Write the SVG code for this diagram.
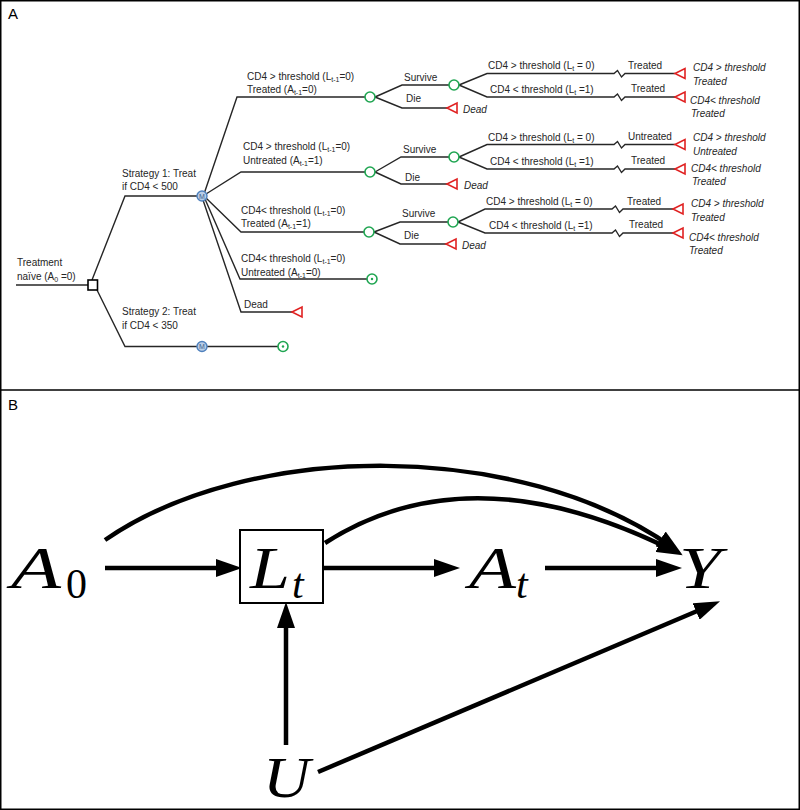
<svg xmlns="http://www.w3.org/2000/svg" width="800" height="810" viewBox="0 0 800 810">
<defs>
<style>
.t{font-family:"Liberation Sans",Arial,sans-serif;font-size:10px;fill:#262626}
.ti{font-family:"Liberation Sans",Arial,sans-serif;font-size:10px;font-style:italic;fill:#262626}
.ln{fill:none;stroke:#262626;stroke-width:1.4}
.ch{fill:#fff;stroke:#1fa551;stroke-width:1.6}
.tm{fill:#fff;stroke:#e02222;stroke-width:1.6}
.mk{fill:#b9cde6;stroke:#4f81bd;stroke-width:1.4}
.mt{font-family:"Liberation Sans",Arial,sans-serif;font-size:7px;fill:#3d5f8c;text-anchor:middle}
.math{font-family:"Liberation Serif","Times New Roman",serif;font-style:italic;fill:#000}
.mathu{font-family:"Liberation Serif","Times New Roman",serif;fill:#000}
.ar{fill:none;stroke:#000;stroke-width:4.5}
</style>
<marker id="ah" viewBox="0 0 26 18" refX="14" refY="9" markerWidth="26" markerHeight="18" markerUnits="userSpaceOnUse" orient="auto">
<path d="M0,0 L26,9 L0,18 Z" fill="#000"/>
</marker>
</defs>
<rect x="0.75" y="0.75" width="798.5" height="808.5" fill="#fff" stroke="#000" stroke-width="1.5"/>
<line x1="0" y1="390" x2="800" y2="390" stroke="#000" stroke-width="1.5"/>
<text x="8" y="19" style="font-family:'Liberation Sans',Arial,sans-serif;font-size:15px">A</text>
<text x="8" y="410" style="font-family:'Liberation Sans',Arial,sans-serif;font-size:15px">B</text>

<!-- Panel A connectors -->
<g id="tree-connectors" class="ln">
<polyline points="16,285 88,285"/>
<polyline points="92,280 125,196 197,196"/>
<polyline points="97,290 125,346.5 197,346.5"/>
<polyline points="207,346.5 278,346.5"/>
<polyline points="204,194 237,97 365,97"/>
<polyline points="206,194 241,172 365,172"/>
<polyline points="206,198 241,232 364,232"/>
<polyline points="205,199 240,279 367,279"/>
<polyline points="203,200 241,312 292,312"/>
<polyline points="375,97 402,85 449,85"/>
<polyline points="375,97 402,108 447,108"/>
<polyline points="459,85 487,73.5 614,73.5 617.5,70.5 621.5,77 625,73.5 675,73.5"/>
<polyline points="459,85 487,97 614,97 617.5,94 621.5,100.5 625,97 675,97"/>
<polyline points="375,172 401,157 449,157"/>
<polyline points="375,172 401,184 447,184"/>
<polyline points="459,157 487,144.5 614,144.5 617.5,141.5 621.5,148 625,144.5 675,144.5"/>
<polyline points="459,157 487,169 614,169 617.5,166 621.5,172.5 625,169 675,169"/>
<polyline points="374,232 400,222 448,222"/>
<polyline points="374,232 400,244 446,244"/>
<polyline points="458,222 485,209 612,209 615.5,206 619.5,212.5 623,209 673,209"/>
<polyline points="458,222 485,233 612,233 615.5,230 619.5,236.5 623,233 673,233"/>
</g>

<!-- Panel A nodes -->
<g id="decision-root"><rect x="88" y="280" width="9.5" height="10" fill="#fff" stroke="#000" stroke-width="1.6"/></g>
<g id="markov-1"><circle class="mk" cx="202" cy="196" r="5"/><text class="mt" x="202" y="198.5">M</text></g>
<g id="markov-2"><circle class="mk" cx="202" cy="346.5" r="5"/><text class="mt" x="202" y="349">M</text></g>
<g id="end-s2"><circle class="ch" cx="283" cy="346.5" r="5"/><circle cx="283" cy="346.5" r="1.2" fill="#1fa551"/></g>
<g id="chance-1"><circle class="ch" cx="370" cy="97" r="5"/></g>
<g id="chance-2"><circle class="ch" cx="370" cy="172" r="5"/></g>
<g id="chance-3"><circle class="ch" cx="369" cy="232" r="5"/></g>
<g id="end-4"><circle class="ch" cx="372" cy="279" r="5"/><circle cx="372" cy="279" r="1.2" fill="#1fa551"/></g>
<g id="dead-5"><polygon class="tm" points="292,312 302,307 302,317"/></g>
<g id="chance-1s"><circle class="ch" cx="454" cy="85" r="5"/></g>
<g id="chance-2s"><circle class="ch" cx="454" cy="157" r="5"/></g>
<g id="chance-3s"><circle class="ch" cx="453" cy="222" r="5"/></g>
<g id="dead-1"><polygon class="tm" points="447,108 457,103 457,113"/></g>
<g id="dead-2"><polygon class="tm" points="447,184 457,179 457,189"/></g>
<g id="dead-3"><polygon class="tm" points="446,244 456,239 456,249"/></g>
<g id="term-1a"><polygon class="tm" points="675,73.5 685,68.5 685,78.5"/></g>
<g id="term-1b"><polygon class="tm" points="675,97 685,92 685,102"/></g>
<g id="term-2a"><polygon class="tm" points="675,144.5 685,139.5 685,149.5"/></g>
<g id="term-2b"><polygon class="tm" points="675,169 685,164 685,174"/></g>
<g id="term-3a"><polygon class="tm" points="673,209 683,204 683,214"/></g>
<g id="term-3b"><polygon class="tm" points="673,233 683,228 683,238"/></g>

<!-- Panel A labels -->
<g id="tree-labels">
<text class="t" x="17" y="266">Treatment</text>
<text class="t" x="17" y="280">naïve (A<tspan font-size="7" dy="2">0</tspan><tspan dy="-2"> =0)</tspan></text>
<text class="t" x="122" y="177">Strategy 1: Treat</text>
<text class="t" x="122" y="190">if CD4 &lt; 500</text>
<text class="t" x="122" y="315">Strategy 2: Treat</text>
<text class="t" x="122" y="329">if CD4 &lt; 350</text>

<text class="t" x="247" y="80">CD4 &gt; threshold (L<tspan font-size="7" dy="2">t-1</tspan><tspan dy="-2">=0)</tspan></text>
<text class="t" x="247" y="93">Treated (A<tspan font-size="7" dy="2">t-1</tspan><tspan dy="-2">=0)</tspan></text>
<text class="t" x="243" y="150">CD4 &gt; threshold (L<tspan font-size="7" dy="2">t-1</tspan><tspan dy="-2">=0)</tspan></text>
<text class="t" x="243" y="164">Untreated (A<tspan font-size="7" dy="2">t-1</tspan><tspan dy="-2">=1)</tspan></text>
<text class="t" x="241" y="214">CD4&lt; threshold (L<tspan font-size="7" dy="2">t-1</tspan><tspan dy="-2">=0)</tspan></text>
<text class="t" x="241" y="227">Treated (A<tspan font-size="7" dy="2">t-1</tspan><tspan dy="-2">=1)</tspan></text>
<text class="t" x="241" y="262">CD4&lt; threshold (L<tspan font-size="7" dy="2">t-1</tspan><tspan dy="-2">=0)</tspan></text>
<text class="t" x="241" y="276">Untreated (A<tspan font-size="7" dy="2">t-1</tspan><tspan dy="-2">=0)</tspan></text>
<text class="t" x="244" y="308">Dead</text>

<text class="t" x="404" y="81">Survive</text>
<text class="t" x="406" y="102">Die</text>
<text class="ti" x="463" y="113">Dead</text>
<text class="t" x="403" y="153">Survive</text>
<text class="t" x="405" y="181">Die</text>
<text class="ti" x="464" y="189">Dead</text>
<text class="t" x="402" y="217">Survive</text>
<text class="t" x="404" y="239">Die</text>
<text class="ti" x="462" y="249">Dead</text>

<text class="t" x="488" y="69">CD4 &gt; threshold (L<tspan font-size="7" dy="2">t</tspan><tspan dy="-2"> = 0)</tspan></text>
<text class="t" x="490" y="93">CD4 &lt; threshold (L<tspan font-size="7" dy="2">t</tspan><tspan dy="-2"> =1)</tspan></text>
<text class="t" x="488" y="141">CD4 &gt; threshold (L<tspan font-size="7" dy="2">t</tspan><tspan dy="-2"> = 0)</tspan></text>
<text class="t" x="490" y="165">CD4 &lt; threshold (L<tspan font-size="7" dy="2">t</tspan><tspan dy="-2"> =1)</tspan></text>
<text class="t" x="486" y="205">CD4 &gt; threshold (L<tspan font-size="7" dy="2">t</tspan><tspan dy="-2"> = 0)</tspan></text>
<text class="t" x="489" y="229">CD4 &lt; threshold (L<tspan font-size="7" dy="2">t</tspan><tspan dy="-2"> =1)</tspan></text>

<text class="t" x="628" y="69">Treated</text>
<text class="t" x="631" y="92">Treated</text>
<text class="t" x="628" y="140">Untreated</text>
<text class="t" x="631" y="164">Treated</text>
<text class="t" x="627" y="205">Treated</text>
<text class="t" x="629" y="228">Treated</text>

<text class="ti" x="693" y="71">CD4 &gt; threshold</text>
<text class="ti" x="693" y="85">Treated</text>
<text class="ti" x="690" y="104">CD4&lt; threshold</text>
<text class="ti" x="691" y="117">Treated</text>
<text class="ti" x="693" y="141">CD4 &gt; threshold</text>
<text class="ti" x="693" y="155">Untreated</text>
<text class="ti" x="691" y="172">CD4&lt; threshold</text>
<text class="ti" x="692" y="185">Treated</text>
<text class="ti" x="691" y="207">CD4 &gt; threshold</text>
<text class="ti" x="691" y="221">Treated</text>
<text class="ti" x="689" y="241">CD4&lt; threshold</text>
<text class="ti" x="689" y="254">Treated</text>
</g>

<!-- Panel B connectors -->
<g id="dag-connectors" class="ar">
<line x1="105" y1="568" x2="230" y2="568" marker-end="url(#ah)"/>
<line x1="324" y1="568" x2="448" y2="568" marker-end="url(#ah)"/>
<line x1="545" y1="568" x2="670" y2="568" marker-end="url(#ah)"/>
<line x1="286" y1="745" x2="286" y2="614" marker-end="url(#ah)"/>
<line x1="318" y1="772" x2="709" y2="606" marker-end="url(#ah)"/>
<path d="M105,540 C250,440 520,440 672,547" marker-end="url(#ah)"/>
<path d="M325,543 Q470,450 672,550" marker-end="url(#ah)"/>
</g>

<!-- Panel B nodes -->
<g id="node-A0">
<text class="math" x="11" y="588" font-size="60" textLength="50" lengthAdjust="spacingAndGlyphs">A</text>
<text class="mathu" x="66" y="598" font-size="42">0</text>
</g>
<g id="node-Lt">
<rect x="240" y="530" width="83" height="73" fill="#fff" stroke="#000" stroke-width="2"/>
<text class="math" x="250" y="588" font-size="60" textLength="40" lengthAdjust="spacingAndGlyphs">L</text>
<text class="math" x="292" y="598" font-size="42">t</text>
</g>
<g id="node-At">
<text class="math" x="469" y="588" font-size="60" textLength="47" lengthAdjust="spacingAndGlyphs">A</text>
<text class="math" x="516" y="598" font-size="42">t</text>
</g>
<g id="node-Y">
<text class="math" x="679" y="588" font-size="60" textLength="42" lengthAdjust="spacingAndGlyphs">Y</text>
</g>
<g id="node-U">
<text class="math" x="263" y="797" font-size="58" textLength="47" lengthAdjust="spacingAndGlyphs">U</text>
</g>
</svg>
